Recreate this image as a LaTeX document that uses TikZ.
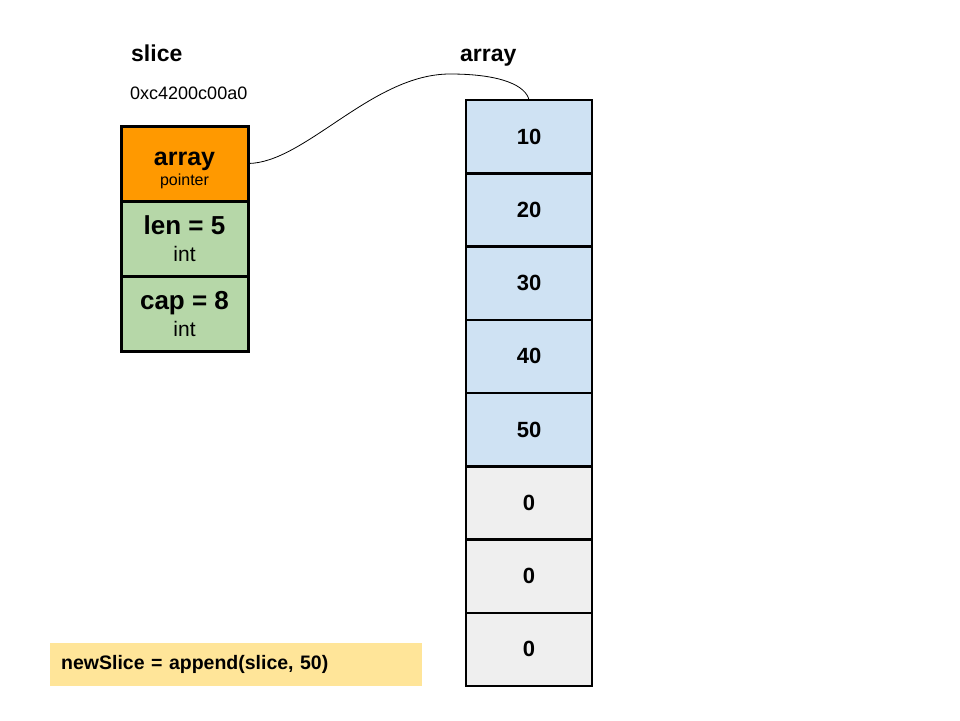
\documentclass[tikz,border=0pt]{standalone}
\usepackage{fontspec}
\setmainfont{Liberation Sans}
\usetikzlibrary{positioning}
\definecolor{ptrorange}{HTML}{FF9900}
\definecolor{fieldgreen}{HTML}{B6D7A8}
\definecolor{elemblue}{HTML}{CFE2F3}
\definecolor{elemgrey}{HTML}{EFEFEF}
\definecolor{codeyellow}{HTML}{FFE599}
\tikzset
{
    title/.style    = {anchor=base west, inner sep=0pt, font=\fontsize{23}{27}\selectfont\bfseries},
    address/.style  = {anchor=base west, inner sep=0pt, font=\fontsize{18}{22}\selectfont},
    field/.style    = {draw=black, line width=3pt, outer sep=0pt, align=center, minimum width=127pt, minimum height=75pt, inner sep=0pt},
    elem/.style     = {draw=black, line width=2.5pt, outer sep=0pt, minimum width=126pt, minimum height=73.25pt, inner sep=0pt, font=\fontsize{22}{26}\selectfont\bfseries},
    codebox/.style  = {fill=codeyellow, anchor=west, minimum height=43pt, text width=350pt, inner xsep=11pt, align=left, font=\fontsize{19.5}{22}\selectfont\bfseries}
}
\begin{document}
\begin{tikzpicture}[x=1pt, y=-1pt]
    \useasboundingbox (0,0) rectangle (960,720);

    \node [title] (slicetitle) at (131,61) {slice};
    \node [title] (arraytitle) at (460,61) {array};
    \node [address] (addr) at (130,99) {0xc4200c00a0};

    % slice header
    \node [field, fill=ptrorange, anchor=north west, font=\fontsize{16}{20}\selectfont] (ptr) at (121,126)
        {\rule{0pt}{27pt}{\fontsize{25}{28}\selectfont\bfseries array}\\{pointer}};
    \node [field, fill=fieldgreen, below=0pt of ptr, font=\fontsize{21}{27}\selectfont] (len)
        {{\fontsize{26}{28}\selectfont\bfseries len = 5}\\{int}};
    \node [field, fill=fieldgreen, below=0pt of len, font=\fontsize{21}{27}\selectfont] (cap)
        {{\fontsize{26}{28}\selectfont\bfseries cap = 8}\\{int}};

    % backing array
    \node [elem, fill=elemblue, anchor=north west] (a1) at (466,100) {10};
    \node [elem, fill=elemblue, below=0pt of a1] (a2) {20};
    \node [elem, fill=elemblue, below=0pt of a2] (a3) {30};
    \node [elem, fill=elemblue, below=0pt of a3] (a4) {40};
    \node [elem, fill=elemblue, below=0pt of a4] (a5) {50};
    \node [elem, fill=elemgrey, below=0pt of a5] (a6) {0};
    \node [elem, fill=elemgrey, below=0pt of a6] (a7) {0};
    \node [elem, fill=elemgrey, below=0pt of a7] (a8) {0};

    \draw [line width=0.8pt] (ptr.east) .. controls (305,163) and (372,74) .. (450,74)
        .. controls (502,74) and (526,86) .. (a1.north);

    \node [codebox] (code) at (50,664) {newSlice = append(slice, 50)};
\end{tikzpicture}
\end{document}
